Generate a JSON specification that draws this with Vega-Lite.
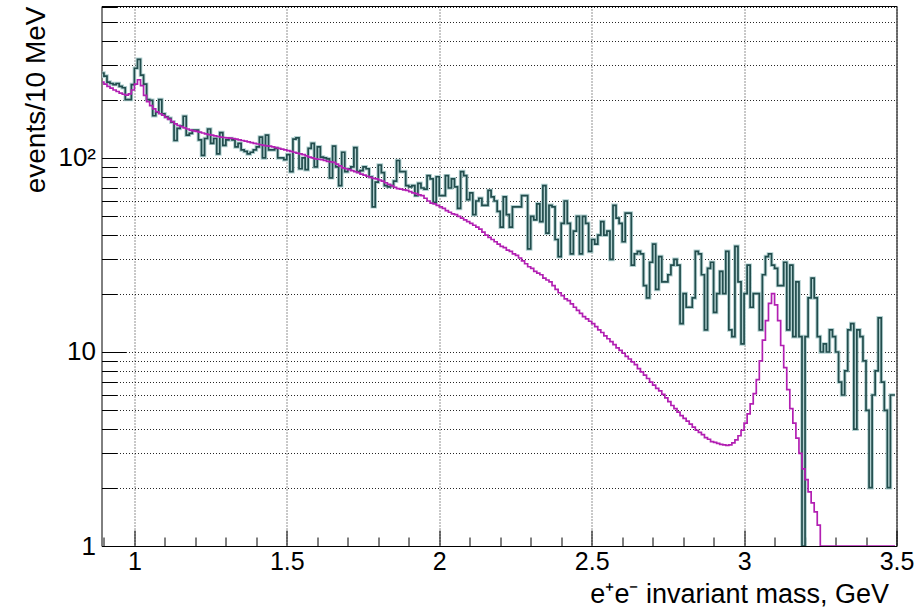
{
  "$schema": "https://vega.github.io/schema/vega-lite/v6.json",
  "width": 795,
  "height": 540,
  "autosize": "none",
  "padding": {"left": 101.5, "top": 6, "right": 21.5, "bottom": 63},
  "background": "white",
  "config": {
    "view": {"stroke": "#000", "strokeWidth": 1},
    "font": "Liberation Sans"
  },
  "data": {
    "values": [
      {"m":895,"n":274,"f":246},{"m":905,"n":264,"f":240},{"m":915,"n":246,"f":234},{"m":925,"n":242,"f":229},{"m":935,"n":239,"f":224},{"m":945,"n":242,"f":220},{"m":955,"n":234,"f":216},{"m":965,"n":230,"f":213},{"m":975,"n":200,"f":211},{"m":985,"n":200,"f":214},
      {"m":995,"n":239,"f":224},{"m":1005,"n":290,"f":240},{"m":1015,"n":322,"f":253},{"m":1025,"n":267,"f":236},{"m":1035,"n":240,"f":210},{"m":1045,"n":200,"f":195},{"m":1055,"n":198,"f":186},{"m":1065,"n":165,"f":179},{"m":1075,"n":172,"f":173},{"m":1085,"n":200,"f":169},
      {"m":1095,"n":169,"f":166},{"m":1105,"n":163,"f":162},{"m":1115,"n":160,"f":158},{"m":1125,"n":153,"f":154},{"m":1135,"n":123,"f":150},{"m":1145,"n":142,"f":147},{"m":1155,"n":146,"f":145},{"m":1165,"n":164,"f":143},{"m":1175,"n":131,"f":141},{"m":1185,"n":134,"f":139},
      {"m":1195,"n":139,"f":138},{"m":1205,"n":139,"f":137},{"m":1215,"n":124,"f":136},{"m":1225,"n":103,"f":134.5},{"m":1235,"n":126,"f":133},{"m":1245,"n":141,"f":132},{"m":1255,"n":119,"f":131},{"m":1265,"n":126,"f":130},{"m":1275,"n":105,"f":129},{"m":1285,"n":135,"f":128},
      {"m":1295,"n":116,"f":127.5},{"m":1305,"n":124,"f":127},{"m":1315,"n":126,"f":126.5},{"m":1325,"n":124,"f":126},{"m":1335,"n":114,"f":125},{"m":1345,"n":119,"f":124},{"m":1355,"n":110,"f":123},{"m":1365,"n":108,"f":122},{"m":1375,"n":105,"f":121},{"m":1385,"n":107,"f":120},
      {"m":1395,"n":110,"f":119},{"m":1405,"n":114,"f":118},{"m":1415,"n":128,"f":117},{"m":1425,"n":100,"f":116},{"m":1435,"n":131,"f":115.5},{"m":1445,"n":110,"f":115},{"m":1455,"n":110,"f":114},{"m":1465,"n":112,"f":113},{"m":1475,"n":100,"f":112},{"m":1485,"n":100,"f":111},
      {"m":1495,"n":98,"f":110},{"m":1505,"n":104,"f":109},{"m":1515,"n":85,"f":108},{"m":1525,"n":125,"f":107},{"m":1535,"n":127,"f":106},{"m":1545,"n":88,"f":105},{"m":1555,"n":100,"f":104},{"m":1565,"n":87,"f":102.5},{"m":1575,"n":112,"f":101},{"m":1585,"n":119,"f":100},
      {"m":1595,"n":90,"f":99},{"m":1605,"n":114,"f":98.5},{"m":1615,"n":101,"f":98},{"m":1625,"n":100,"f":97},{"m":1635,"n":99,"f":96},{"m":1645,"n":79,"f":95.5},{"m":1655,"n":115,"f":95},{"m":1665,"n":90,"f":93},{"m":1675,"n":72,"f":91},{"m":1685,"n":107,"f":89},
      {"m":1695,"n":85,"f":88},{"m":1705,"n":88,"f":87},{"m":1715,"n":90,"f":86},{"m":1725,"n":113,"f":85},{"m":1735,"n":85,"f":84},{"m":1745,"n":86,"f":82.5},{"m":1755,"n":90,"f":81.5},{"m":1765,"n":88,"f":80.5},{"m":1775,"n":80,"f":79.5},{"m":1785,"n":56,"f":78.5},
      {"m":1795,"n":75,"f":78},{"m":1805,"n":92,"f":77},{"m":1815,"n":84,"f":76},{"m":1825,"n":72,"f":74.5},{"m":1835,"n":71,"f":73},{"m":1845,"n":72,"f":72},{"m":1855,"n":76,"f":70.5},{"m":1865,"n":97,"f":69.5},{"m":1875,"n":85,"f":69},{"m":1885,"n":85,"f":68.5},
      {"m":1895,"n":72,"f":68},{"m":1905,"n":71,"f":67},{"m":1915,"n":72,"f":66},{"m":1925,"n":64,"f":65.5},{"m":1935,"n":74,"f":64.5},{"m":1945,"n":70,"f":64},{"m":1955,"n":69,"f":62},{"m":1965,"n":81,"f":60},{"m":1975,"n":78,"f":58.5},{"m":1985,"n":59,"f":58},
      {"m":1995,"n":80,"f":57},{"m":2005,"n":64,"f":56},{"m":2015,"n":64,"f":55},{"m":2025,"n":81,"f":53.5},{"m":2035,"n":70,"f":52.5},{"m":2045,"n":78,"f":51.5},{"m":2055,"n":71,"f":51},{"m":2065,"n":55,"f":50},{"m":2075,"n":85,"f":49},{"m":2085,"n":81,"f":48},
      {"m":2095,"n":61,"f":47},{"m":2105,"n":66,"f":46},{"m":2115,"n":51,"f":45},{"m":2125,"n":60,"f":44},{"m":2135,"n":62,"f":43},{"m":2145,"n":57,"f":41.5},{"m":2155,"n":57,"f":40},{"m":2165,"n":68,"f":39},{"m":2175,"n":63,"f":38},{"m":2185,"n":60,"f":37},
      {"m":2195,"n":53,"f":36},{"m":2205,"n":44,"f":35},{"m":2215,"n":63,"f":34.5},{"m":2225,"n":51,"f":33.5},{"m":2235,"n":44,"f":33},{"m":2245,"n":56,"f":32},{"m":2255,"n":56,"f":31.5},{"m":2265,"n":56,"f":30.5},{"m":2275,"n":64,"f":29.5},{"m":2285,"n":64,"f":28.5},
      {"m":2295,"n":34,"f":27.5},{"m":2305,"n":50,"f":27},{"m":2315,"n":48,"f":26},{"m":2325,"n":58,"f":25.5},{"m":2335,"n":47,"f":25},{"m":2345,"n":72,"f":24},{"m":2355,"n":41,"f":23.5},{"m":2365,"n":57,"f":23},{"m":2375,"n":56,"f":22},{"m":2385,"n":38,"f":21},
      {"m":2395,"n":31,"f":20.2},{"m":2405,"n":46,"f":19.5},{"m":2415,"n":60,"f":18.8},{"m":2425,"n":46,"f":18.4},{"m":2435,"n":32,"f":17.7},{"m":2445,"n":42,"f":17},{"m":2455,"n":50,"f":16.4},{"m":2465,"n":32,"f":15.8},{"m":2475,"n":50,"f":15.2},{"m":2485,"n":46,"f":14.8},
      {"m":2495,"n":33,"f":14.4},{"m":2505,"n":38,"f":14},{"m":2515,"n":36,"f":13.5},{"m":2525,"n":40,"f":13},{"m":2535,"n":47,"f":12.6},{"m":2545,"n":40,"f":12.1},{"m":2555,"n":42,"f":11.7},{"m":2565,"n":30,"f":11.3},{"m":2575,"n":57,"f":10.9},{"m":2585,"n":49,"f":10.5},
      {"m":2595,"n":46,"f":10.2},{"m":2605,"n":37,"f":9.85},{"m":2615,"n":52,"f":9.5},{"m":2625,"n":52,"f":9.2},{"m":2635,"n":28,"f":8.9},{"m":2645,"n":32,"f":8.6},{"m":2655,"n":33,"f":8.2},{"m":2665,"n":32,"f":7.9},{"m":2675,"n":22,"f":7.6},{"m":2685,"n":19,"f":7.3},
      {"m":2695,"n":29,"f":7},{"m":2705,"n":36,"f":6.75},{"m":2715,"n":21,"f":6.5},{"m":2725,"n":31,"f":6.3},{"m":2735,"n":23,"f":6.05},{"m":2745,"n":23,"f":5.8},{"m":2755,"n":25,"f":5.55},{"m":2765,"n":28,"f":5.3},{"m":2775,"n":30,"f":5.1},{"m":2785,"n":28,"f":4.9},
      {"m":2795,"n":14,"f":4.7},{"m":2805,"n":20,"f":4.55},{"m":2815,"n":17,"f":4.4},{"m":2825,"n":17,"f":4.25},{"m":2835,"n":19,"f":4.1},{"m":2845,"n":33,"f":3.95},{"m":2855,"n":32,"f":3.85},{"m":2865,"n":25,"f":3.75},{"m":2875,"n":13,"f":3.62},{"m":2885,"n":27,"f":3.55},
      {"m":2895,"n":29,"f":3.45},{"m":2905,"n":16,"f":3.42},{"m":2915,"n":20,"f":3.38},{"m":2925,"n":26,"f":3.34},{"m":2935,"n":20,"f":3.32},{"m":2945,"n":33,"f":3.3},{"m":2955,"n":13,"f":3.32},{"m":2965,"n":12,"f":3.4},{"m":2975,"n":35,"f":3.52},{"m":2985,"n":23,"f":3.7},
      {"m":2995,"n":11,"f":3.95},{"m":3005,"n":20,"f":4.3},{"m":3015,"n":28,"f":4.8},{"m":3025,"n":17,"f":5.4},{"m":3035,"n":20,"f":6.1},{"m":3045,"n":20,"f":7.2},{"m":3055,"n":13,"f":9},{"m":3065,"n":25,"f":11.5},{"m":3075,"n":31,"f":14.5},{"m":3085,"n":32,"f":17.8},
      {"m":3095,"n":28,"f":20},{"m":3105,"n":27,"f":17.5},{"m":3115,"n":22,"f":14.5},{"m":3125,"n":22,"f":10.8},{"m":3135,"n":29,"f":8.3},{"m":3145,"n":13,"f":6.4},{"m":3155,"n":28,"f":5.1},{"m":3165,"n":12,"f":4.3},{"m":3175,"n":23,"f":3.6},{"m":3185,"n":12,"f":3},
      {"m":3195,"n":0,"f":2.5},{"m":3205,"n":12,"f":2.2},{"m":3215,"n":19,"f":1.9},{"m":3225,"n":24,"f":1.67},{"m":3235,"n":19,"f":1.5},{"m":3245,"n":12,"f":1.28},{"m":3255,"n":10,"f":0.9},{"m":3265,"n":11,"f":0.7},{"m":3275,"n":10,"f":0.55},{"m":3285,"n":13,"f":0.42},
      {"m":3295,"n":12,"f":0.33},{"m":3305,"n":10,"f":0.26},{"m":3315,"n":7,"f":0.2},{"m":3325,"n":6,"f":0.16},{"m":3335,"n":8,"f":0.13},{"m":3345,"n":13,"f":0.1},{"m":3355,"n":14,"f":0.08},{"m":3365,"n":4,"f":0.07},{"m":3375,"n":13,"f":0.06},{"m":3385,"n":12,"f":0.05},
      {"m":3395,"n":9,"f":0.04},{"m":3405,"n":5,"f":0.035},{"m":3415,"n":2,"f":0.03},{"m":3425,"n":6,"f":0.025},{"m":3435,"n":8,"f":0.02},{"m":3445,"n":15,"f":0.018},{"m":3455,"n":7,"f":0.016},{"m":3465,"n":5,"f":0.014},{"m":3475,"n":2,"f":0.012},{"m":3485,"n":6,"f":0.011},{"m":3495,"n":6,"f":0.01}
    ]
  },
  "encoding": {
    "x": {
      "field": "m",
      "type": "quantitative",
      "scale": {"domain": [892, 3500], "nice": false, "zero": false},
      "axis": {
        "values": [900,1000,1100,1200,1300,1400,1500,1600,1700,1800,1900,2000,2100,2200,2300,2400,2500,2600,2700,2800,2900,3000,3100,3200,3300,3400,3500],
        "labelExpr": "datum.value % 500 == 0 ? '' + datum.value / 1000 : ''",
        "domain": false,
        "ticks": true,
        "tickColor": "#000",
        "tickWidth": 1,
        "tickSize": {"condition": {"test": "datum.value % 500 == 0", "value": -16}, "value": -9},
        "grid": true,
        "gridColor": "#000",
        "gridDash": [1, 2],
        "gridWidth": 1,
        "gridOpacity": {"condition": {"test": "datum.value % 500 == 0", "value": 0.85}, "value": 0},
        "labelFont": "Liberation Sans",
        "labelFontSize": 25,
        "labelColor": "#000",
        "labelBaseline": "top",
        "labelAlign": "center",
        "labelPadding": 19,
        "labelFlush": false,
        "labelOverlap": false,
        "title": "e⁺e⁻ invariant mass, GeV",
        "titleFont": "Liberation Sans",
        "titleFontSize": 27,
        "titleFontWeight": "normal",
        "titleColor": "#000",
        "titleAngle": 0,
        "titleAlign": "right",
        "titleBaseline": "alphabetic",
        "titleX": 787,
        "titleY": 56
      }
    }
  },
  "layer": [
    {
      "mark": {"type": "line", "interpolate": "step", "stroke": "#b3d1d1", "strokeWidth": 3.6, "clip": true, "invalid": null},
      "encoding": {
        "y": {
          "field": "n",
          "type": "quantitative",
          "title": "events/10 MeV",
          "scale": {"type": "log", "domain": [1, 607], "nice": false, "clamp": true},
          "axis": {
            "values": [1,2,3,4,5,6,7,8,9,10,20,30,40,50,60,70,80,90,100,200,300,400,500,600],
            "labelExpr": "datum.value == 1 ? '1' : datum.value == 10 ? '10' : datum.value == 100 ? '10²' : ''",
            "domain": false,
            "ticks": true,
            "tickColor": "#000",
            "tickWidth": 1,
            "tickSize": {"condition": {"test": "datum.value == 1 || datum.value == 10 || datum.value == 100", "value": -24}, "value": -15},
            "grid": true,
            "gridColor": "#000",
            "gridDash": [1, 2],
            "gridWidth": 1,
            "gridOpacity": 0.85,
            "labelFont": "Liberation Sans",
            "labelFontSize": 26,
            "labelColor": "#000",
            "labelAlign": "right",
            "labelBaseline": "middle",
            "labelPadding": 30,
            "labelFlush": false,
            "labelOverlap": false,
            "titleFont": "Liberation Sans",
            "titleFontSize": 28,
            "titleFontWeight": "normal",
            "titleColor": "#000",
            "titleAngle": -90,
            "titleAlign": "right",
            "titleBaseline": "alphabetic",
            "titleX": -57,
            "titleY": 0
          }
        }
      }
    },
    {
      "mark": {"type": "line", "interpolate": "step", "stroke": "#224d4d", "strokeWidth": 1.7, "clip": true, "invalid": null},
      "encoding": {
        "y": {"field": "n", "type": "quantitative", "title": "events/10 MeV", "scale": {"type": "log", "domain": [1, 607], "nice": false, "clamp": true}}
      }
    },
    {
      "mark": {"type": "line", "interpolate": "step", "stroke": "#b21fb2", "strokeWidth": 1.7, "clip": true, "invalid": null},
      "encoding": {
        "y": {"field": "f", "type": "quantitative", "title": "events/10 MeV", "scale": {"type": "log", "domain": [1, 607], "nice": false, "clamp": true}}
      }
    }
  ]
}
